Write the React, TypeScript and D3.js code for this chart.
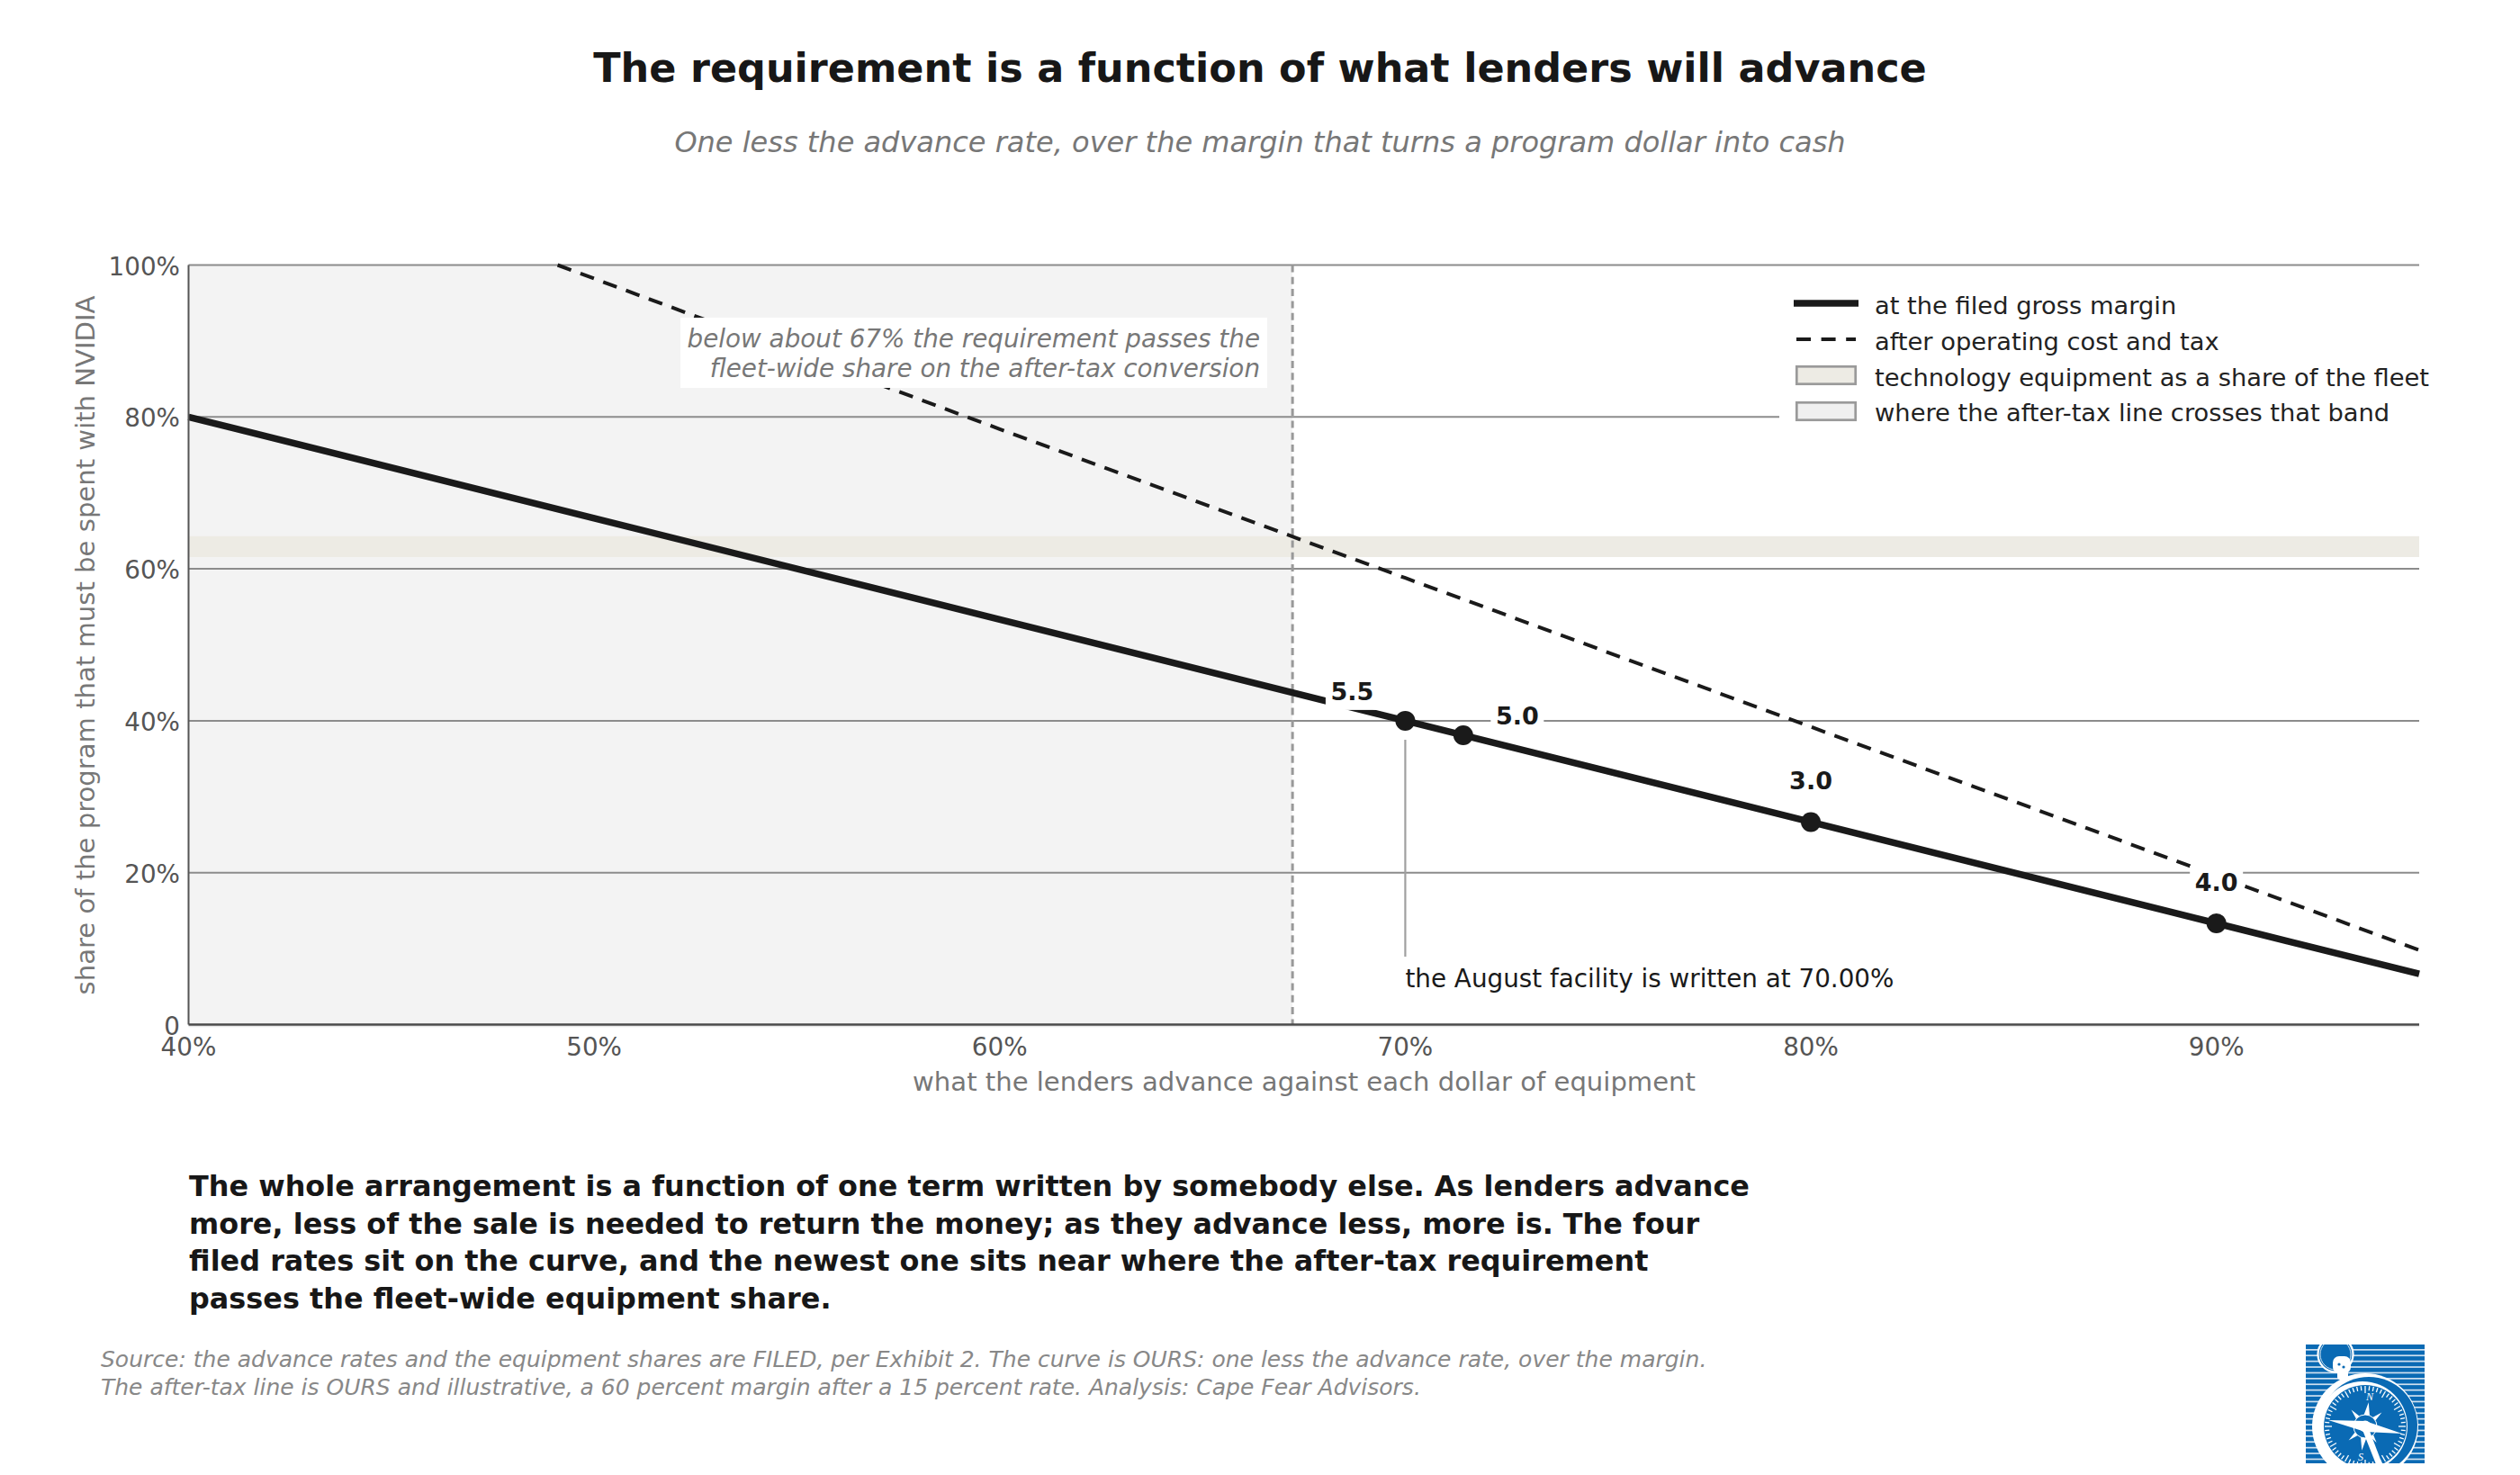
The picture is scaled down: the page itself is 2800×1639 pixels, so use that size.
import React from "react";
import * as d3 from "d3";

const W = 2800, H = 1639;
const FONT = "DejaVu Sans";
const xTicks = [40, 50, 60, 70, 80, 90];
const yTicks = [0, 20, 40, 60, 80, 100];
const grossAdvance = [40, 50, 60, 70, 80, 90, 95];
const grossRequired = [80, 66.67, 53.33, 40, 26.67, 13.33, 6.67];
const afterTaxAdvance = [49.1, 60, 70, 80, 90, 95];
const afterTaxRequired = [100, 78.4, 58.8, 39.2, 19.6, 9.8];
const filedAdvance = [70, 71.43, 80, 90];
const filedRequired = [40, 38.1, 26.67, 13.33];
const filedLabels = ["5.5", "5.0", "3.0", "4.0"];
const bandLow = 61.55, bandHigh = 64.3, crossAt = 67.22;
const bodyLines = [
  "The whole arrangement is a function of one term written by somebody else. As lenders advance",
  "more, less of the sale is needed to return the money; as they advance less, more is. The four",
  "filed rates sit on the curve, and the newest one sits near where the after-tax requirement",
  "passes the fleet-wide equipment share.",
];
const sourceLines = [
  "Source: the advance rates and the equipment shares are FILED, per Exhibit 2. The curve is OURS: one less the advance rate, over the margin.",
  "The after-tax line is OURS and illustrative, a 60 percent margin after a 15 percent rate. Analysis: Cape Fear Advisors.",
];
const legendItems = [
  "at the filed gross margin",
  "after operating cost and tax",
  "technology equipment as a share of the fleet",
  "where the after-tax line crosses that band",
];

const x = d3.scaleLinear().domain([40, 95]).range([209.5, 2688]);
const y = d3.scaleLinear().domain([0, 100]).range([1138.5, 294.5]);
const lineGen = d3.line<[number, number]>().x((d) => x(d[0])).y((d) => y(d[1]));
const INK = "#1a1a1a";
const GRID = "#8c8c8c";
const MUTED = "#777";
const labelOffsets: [number, number][] = [
  [-59, -23],
  [60, -12],
  [0, -36],
  [0, -36],
];

function Logo() {
  const lx = 2562, ty = 1494, s = 132;
  const cx = 2628, cy = 1585;
  const BLUE = "#0a6ab4";
  const stripes = d3.range(0, 21);
  const ticks = d3.range(0, 60);
  const star: [number, number, number][] = [
    [-82, 27, 6], [98, 27, 6], [8, 18, 6], [188, 18, 6],
    [-40, 24, 5], [-130, 24, 5], [140, 24, 5], [55, 22, 5],
  ];
  const rad = (deg: number) => (deg * Math.PI) / 180;
  return (
    <g>
      <defs>
        <clipPath id="logoClip"><rect x={lx} y={ty} width={s} height={s} /></clipPath>
      </defs>
      <g clipPath="url(#logoClip)">
        <rect x={lx} y={ty} width={s} height={s} fill={BLUE} />
        {stripes.map((i) => (
          <rect key={i} x={lx} y={ty + 5 + i * 6.4} width={s} height={1.7} fill="#cfe0ef" />
        ))}
        <circle cx={2595} cy={1505} r={20} fill={BLUE} />
        <circle cx={2595} cy={1505} r={19.5} fill="none" stroke="#fff" strokeWidth={2.2} />
        <circle cx={2595} cy={1505} r={17} fill="none" stroke="#fff" strokeWidth={0.8} />
        <rect x={2592} y={1507} width={20} height={19} rx={7} fill="#fff" />
        <rect x={2597} y={1520} width={12} height={13} rx={3} fill="#fff" />
        <circle cx={2599} cy={1516} r={1.6} fill={BLUE} />
        <circle cx={2604} cy={1519} r={1.6} fill={BLUE} />
        <circle cx={cx} cy={cy} r={59} fill="#fff" />
        <circle cx={cx + 4} cy={cy - 1} r={54} fill={BLUE} />
        <circle cx={cx - 3} cy={cy} r={50} fill="#fff" />
        <circle cx={cx} cy={cy} r={46} fill={BLUE} />
        {ticks.map((i) => {
          const a = (i / 60) * 2 * Math.PI;
          const inner = i % 5 === 0 ? 37 : 40;
          return (
            <line key={i} x1={cx + inner * Math.cos(a)} y1={cy + inner * Math.sin(a)} x2={cx + 45 * Math.cos(a)} y2={cy + 45 * Math.sin(a)} stroke="#fff" strokeWidth={1.3} />
          );
        })}
        {star.map(([deg, len, w], i) => {
          const a = rad(deg), c = Math.cos(a), sn = Math.sin(a);
          return (
            <path key={i} d={`M${cx + len * c},${cy + len * sn} L${cx - w * sn},${cy + w * c} L${cx + w * sn},${cy - w * c} Z`} fill="#fff" />
          );
        })}
        <circle cx={cx} cy={cy} r={13} fill={BLUE} stroke="#fff" strokeWidth={1} />
        <path d={`M${cx - 41},${cy - 7} L${cx},${cy - 6} L${cx + 41},${cy + 8} L${cx},${cy + 6} Z`} fill="#fff" />
        <path d={`M${cx + 3},${cy} L${cx + 19},${cy + 42} L${cx + 12},${cy + 42} L${cx - 3},${cy + 4} Z`} fill="#fff" />
        <circle cx={cx} cy={cy} r={6.5} fill="#fff" />
        <text x={cx + 5} y={cy - 29} fontFamily="Liberation Serif" fontStyle="italic" fontSize={12} fill="#fff" textAnchor="middle">N</text>
        <text x={cx - 5} y={cy + 38} fontFamily="Liberation Serif" fontStyle="italic" fontSize={12} fill="#fff" textAnchor="middle">S</text>
      </g>
    </g>
  );
}

export default function App() {
  const gross = grossAdvance.map((a, i) => [a, grossRequired[i]] as [number, number]);
  const after = afterTaxAdvance.map((a, i) => [a, afterTaxRequired[i]] as [number, number]);
  return (
    <svg width={W} height={H} viewBox={`0 0 ${W} ${H}`} style={{ position: "fixed", left: 0, top: 0, background: "#fff" }} fontFamily={FONT}>
      <rect width={W} height={H} fill="#fff" />
      <text x={1400} y={90.5} textAnchor="middle" fontSize={44.5} fontWeight={700} fill="#171717">The requirement is a function of what lenders will advance</text>
      <text x={1400} y={169} textAnchor="middle" fontSize={32} fontStyle="italic" fill={MUTED}>One less the advance rate, over the margin that turns a program dollar into cash</text>

      <rect x={x(40)} y={y(100)} width={x(crossAt) - x(40)} height={y(0) - y(100)} fill="#f3f3f3" />
      <rect x={x(40)} y={y(bandHigh)} width={x(95) - x(40)} height={y(bandLow) - y(bandHigh)} fill="#edebe4" />
      {yTicks.slice(1).map((t) => (
        <line key={t} x1={x(40)} x2={x(95)} y1={y(t)} y2={y(t)} stroke={GRID} strokeWidth={2} />
      ))}
      <line x1={x(crossAt)} x2={x(crossAt)} y1={y(100)} y2={y(0)} stroke="#999" strokeWidth={3} strokeDasharray="8 5.3" />
      <line x1={x(70)} x2={x(70)} y1={822} y2={1063} stroke="#a0a0a0" strokeWidth={2.2} />
      <path d={lineGen(after) ?? ""} fill="none" stroke={INK} strokeWidth={4} strokeDasharray="16 11" />

      <rect x={756} y={353} width={652} height={78} fill="#fff" />
      <text x={1400} y={386} textAnchor="end" fontSize={27.8} fontStyle="italic" fill={MUTED}>below about 67% the requirement passes the</text>
      <text x={1400} y={419} textAnchor="end" fontSize={27.8} fontStyle="italic" fill={MUTED}>fleet-wide share on the after-tax conversion</text>

      <path d={lineGen(gross) ?? ""} fill="none" stroke={INK} strokeWidth={7.5} />
      {filedAdvance.map((a, i) => (
        <circle key={a} cx={x(a)} cy={y(filedRequired[i])} r={11} fill={INK} />
      ))}
      {filedAdvance.map((a, i) => {
        const [dx, dy] = labelOffsets[i];
        const px = x(a) + dx, py = y(filedRequired[i]) + dy;
        return (
          <g key={a}>
            <rect x={px - 29.5} y={py - 28} width={59} height={39} fill="#fff" />
            <text x={px} y={py} textAnchor="middle" fontSize={27} fontWeight={700} fill={INK}>{filedLabels[i]}</text>
          </g>
        );
      })}
      <text x={x(70)} y={1097} fontSize={27.8} fill={INK}>the August facility is written at 70.00%</text>

      <rect x={1977} y={312} width={737} height={180} fill="#fff" />
      <line x1={1993} x2={2065} y1={337} y2={337} stroke={INK} strokeWidth={7.5} />
      <line x1={1996} x2={2062} y1={377} y2={377} stroke={INK} strokeWidth={4} strokeDasharray="16 11.6" />
      <rect x={1996.3} y={407.3} width={65.4} height={19.4} fill="#edebe4" stroke="#9a9a9a" strokeWidth={2.7} />
      <rect x={1996.3} y={447.3} width={65.4} height={19.4} fill="#f0f0f0" stroke="#9a9a9a" strokeWidth={2.7} />
      {legendItems.map((t, i) => (
        <text key={t} x={2083} y={349 + i * 39.8} fontSize={27.3} fill="#222">{t}</text>
      ))}

      <line x1={x(40)} x2={x(40)} y1={y(100)} y2={y(0)} stroke="#555" strokeWidth={2} />
      <line x1={x(40)} x2={x(95)} y1={y(0) + 2} y2={y(0) + 2} stroke="#e6e6e6" strokeWidth={1.5} />
      <line x1={x(40)} x2={x(95)} y1={y(0)} y2={y(0)} stroke="#4a4a4a" strokeWidth={2.6} />
      {yTicks.map((t) => (
        <text key={t} x={200} y={y(t) + 11} textAnchor="end" fontSize={27.8} fill="#555">{t === 0 ? "0" : `${t}%`}</text>
      ))}
      {xTicks.map((t) => (
        <text key={t} x={x(t)} y={1172.5} textAnchor="middle" fontSize={27.8} fill="#555">{`${t}%`}</text>
      ))}
      <text x={1449} y={1212} textAnchor="middle" fontSize={29.1} fill={MUTED}>what the lenders advance against each dollar of equipment</text>
      <text transform={`translate(105,717) rotate(-90)`} textAnchor="middle" fontSize={29.1} fill={MUTED}>share of the program that must be spent with NVIDIA</text>

      {bodyLines.map((t, i) => (
        <text key={i} x={210} y={1329 + i * 41.6} fontSize={31.9} fontWeight={700} fill="#171717">{t}</text>
      ))}
      {sourceLines.map((t, i) => (
        <text key={i} x={112} y={1519 + i * 31} fontSize={25} fontStyle="italic" fill="#888">{t}</text>
      ))}
      <Logo />
    </svg>
  );
}
